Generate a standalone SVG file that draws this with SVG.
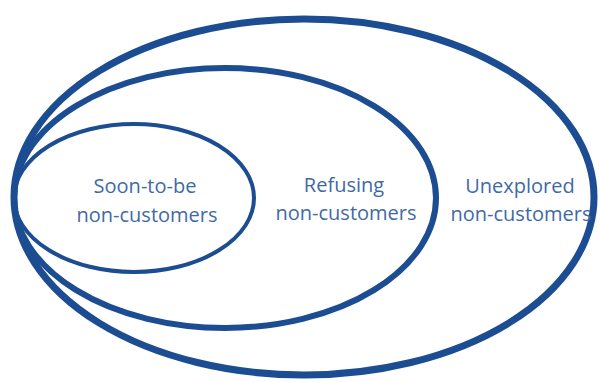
<svg xmlns="http://www.w3.org/2000/svg" width="600" height="382" viewBox="0 0 600 382">
<style>
.ring{fill:none;stroke:#1c4d92}
.lbl{font-family:"Open Sans","Noto Sans",sans-serif;font-size:20px;fill:#3f6aa6;text-anchor:middle}
</style>
<rect width="600" height="382" fill="#ffffff"/>
<g id="unexplored">
<ellipse class="ring" cx="304" cy="197" rx="290" ry="178" stroke-width="7"/>
<text class="lbl" x="520" y="193">Unexplored</text>
<text class="lbl" x="521" y="221">non-customers</text>
</g>
<g id="refusing">
<ellipse class="ring" cx="225" cy="198" rx="211" ry="130" stroke-width="6"/>
<text class="lbl" x="344" y="192">Refusing</text>
<text class="lbl" x="346" y="220">non-customers</text>
</g>
<g id="soon">
<ellipse class="ring" cx="134" cy="198" rx="120" ry="74" stroke-width="4"/>
<text class="lbl" x="145" y="193">Soon-to-be</text>
<text class="lbl" x="147" y="222">non-customers</text>
</g>
<g id="connectors"/>
</svg>
